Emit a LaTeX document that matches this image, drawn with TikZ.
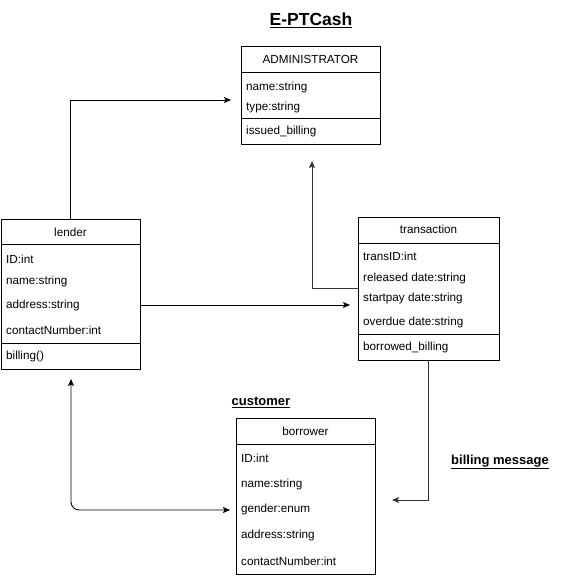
\documentclass[tikz,border=0pt]{standalone}
\usepackage{fontspec}
\setmainfont{Liberation Sans}
\usepackage{tikz}
\usepackage{xcolor}
\usetikzlibrary{arrows.meta}

\begin{document}
\begin{tikzpicture}[x=1pt,y=-1pt,>={Stealth[length=7pt,width=6pt,inset=1.5pt]}]
    \tikzstyle{C}=[rectangle,draw=black,line width=0.8pt,inner sep=0pt]
    \tikzstyle{H}=[font=\fontsize{11.7}{14}\selectfont,inner sep=0pt]
    \tikzstyle{A}=[anchor=west,font=\fontsize{11.7}{14}\selectfont,inner sep=0pt]
    \tikzstyle{T}=[font=\fontsize{13}{15}\selectfont\bfseries,inner sep=0pt]
    \tikzstyle{link}=[->,line width=0.9pt]

    \useasboundingbox (0,0) rectangle (561,578);

    % Title
    \node [T, font=\fontsize{17.5}{20}\selectfont\bfseries] (title) at (311,20) {\underline{E-PTCash}};

    % ADMINISTRATOR
    \node [C, minimum width=139pt, minimum height=98pt] (admin) at (310.5,95) {};
    \draw [line width=0.8pt] (admin.west |- 0,72) -- (admin.east |- 0,72);
    \draw [line width=0.8pt] (admin.west |- 0,118) -- (admin.east |- 0,118);
    \node [H] (adminHead) at (310.5,59) {ADMINISTRATOR};
    \node [A] (adminName) at (246,87) {name:string};
    \node [A] (adminType) at (246,107) {type:string};
    \node [A] (adminBill) at (246,131) {issued\_billing};

    % lender
    \node [C, minimum width=139pt, minimum height=150pt] (lender) at (70.5,294) {};
    \draw [line width=0.8pt] (lender.west |- 0,244) -- (lender.east |- 0,244);
    \draw [line width=0.8pt] (lender.west |- 0,343) -- (lender.east |- 0,343);
    \node [H] (lenderHead) at (70.5,232) {lender};
    \node [A] (lenderID) at (6,259) {ID:int};
    \node [A] (lenderName) at (6,281) {name:string};
    \node [A] (lenderAddr) at (6,305) {address:string};
    \node [A] (lenderContact) at (6,330) {contactNumber:int};
    \node [A] (lenderBill) at (6,356) {billing()};

    % transaction
    \node [C, minimum width=141pt, minimum height=143pt] (trans) at (428.5,288.5) {};
    \draw [line width=0.8pt] (trans.west |- 0,243) -- (trans.east |- 0,243);
    \draw [line width=0.8pt] (trans.west |- 0,334) -- (trans.east |- 0,334);
    \node [H] (transHead) at (428.5,229) {transaction};
    \node [A] (transID) at (363,256) {transID:int};
    \node [A] (transRel) at (363,278) {released date:string};
    \node [A] (transStart) at (363,298) {startpay date:string};
    \node [A] (transDue) at (363,322) {overdue date:string};
    \node [A] (transBill) at (363,347) {borrowed\_billing};

    % borrower
    \node [T] (custLabel) at (261,402) {\underline{customer}};
    \node [C, minimum width=139pt, minimum height=156pt] (borrower) at (305.5,496) {};
    \draw [line width=0.8pt] (borrower.west |- 0,444) -- (borrower.east |- 0,444);
    \node [H] (borrowerHead) at (305.5,431) {borrower};
    \node [A] (borrowerID) at (241,458) {ID:int};
    \node [A] (borrowerName) at (241,484) {name:string};
    \node [A] (borrowerGender) at (241,509) {gender:enum};
    \node [A] (borrowerAddr) at (241,535) {address:string};
    \node [A] (borrowerContact) at (241,561) {contactNumber:int};

    \node [T] (msgLabel) at (500,462) {\underline{billing message}};

    % connectors
    \coordinate (adminIn) at (231,100);
    \coordinate (adminUp) at (312,161);
    \coordinate (transIn) at (350,305);
    \coordinate (borrowIn) at (392,500);
    \coordinate (lenderUp) at (71,379);
    \coordinate (borrowLeft) at (230,510);

    \draw [link] (lender.north) |- (adminIn);
    \draw [link, black!80] (trans.west) -| (adminUp);
    \draw [link] (lender.east |- transIn) -- (transIn);
    \draw [link, black!80] (trans.south) |- (borrowIn);
    \draw [<->, line width=0.9pt, rounded corners=8pt] (lenderUp) |- (borrowLeft);
\end{tikzpicture}
\end{document}
